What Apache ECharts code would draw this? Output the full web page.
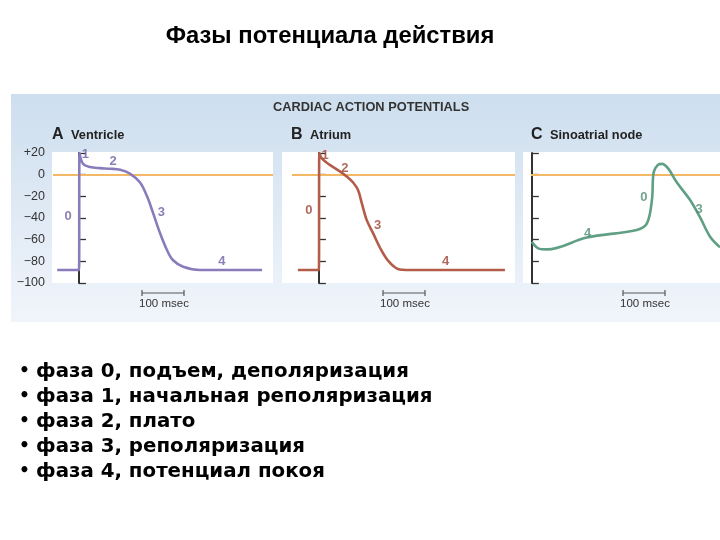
<!DOCTYPE html>
<html><head><meta charset="utf-8">
<script src="https://cdn.jsdelivr.net/npm/echarts@6/dist/echarts.min.js"></script>
<style>html,body{margin:0;padding:0;background:#fff}#c{width:720px;height:540px}</style>
</head><body><div id="c"></div>
<script>
// ---- data: membrane potential (mV) vs time (ms) ----
const ventricleT = [-52, 0, 1, 9.5, 26, 50, 74, 98, 121, 145, 162, 176, 193, 210, 224, 248, 288, 436];
const ventricleV = [-88, -88, 20, 10, 7, 6, 5.5, 4.5, 1, -7, -20, -35, -54, -70, -79, -85, -88, -88];
const atriumT = [-50, 0, 1, 7, 26, 50, 67, 81, 93, 102, 114, 129, 145, 164, 188, 215, 443];
const atriumV = [-88, -88, 20, 15, 9, 3, -2, -7, -14, -26, -42, -54, -67, -79, -87, -88, -88];
const sanodeT = [0, 15, 36, 131, 250, 274, 286, 290, 300, 310, 324, 345, 376, 400, 424, 448];
const sanodeV = [-62, -68, -69, -58, -51, -45, -23, 2, 9, 10, 6, -7, -23, -39, -57, -67];
// phase labels [time, mV, text]
const ventricleLabels = [[15, 18.6, '1'], [81, 12, '2'], [-26, -39, '0'], [196, -35, '3'], [340, -80, '4']];
const atriumLabels = [[15, 17.7, '1'], [62, 5.6, '2'], [-24, -33, '0'], [140, -47, '3'], [302, -80, '4']];
const sanodeLabels = [[133, -54, '4'], [267, -21, '0'], [398, -32, '3']];
const yTicks = [20, 0, -20, -40, -60, -80, -100];
const panelTitles = [['A', 'Ventricle'], ['B', 'Atrium'], ['C', 'Sinoatrial node']];
const bullets = ['фаза 0, подъем, деполяризация', 'фаза 1, начальная реполяризация', 'фаза 2, плато', 'фаза 3, реполяризация', 'фаза 4, потенциал покоя'];
const mainTitle = 'Фазы потенциала действия';
const figTitle = 'CARDIAC ACTION POTENTIALS';
const scaleText = '100 msec';

const zip = (t, v) => t.map((x, i) => [x, v[i]]);
const colors = ['#8a7cba', '#b35c4a', '#5f9f84'];
const labelColors = ['#6f5fa3', '#9c4434', '#4e8c70'];
const grids = [
  {left: 53, top: 153, width: 220, height: 130},
  {left: 292, top: 153, width: 223, height: 130},
  {left: 531, top: 153, width: 189, height: 130}
];
const xr = [[-62, 462], [-64, 467], [-2, 448]];
const curves = [zip(ventricleT, ventricleV), zip(atriumT, atriumV), zip(sanodeT, sanodeV)];
const labs = [ventricleLabels, atriumLabels, sanodeLabels];
const whiteRects = [[52, 273], [282, 515], [523, 720]];

const fmt = v => v > 0 ? '+' + v : (v < 0 ? '\u2212' + Math.abs(v) : '0');

const series = [];
curves.forEach((d, i) => {
  series.push({
    type: 'line', xAxisIndex: i, yAxisIndex: i, data: d, showSymbol: false, smooth: 0.35,
    lineStyle: {color: colors[i], width: 2.6}, z: 5, silent: true,
    markLine: {symbol: 'none', silent: true, label: {show: false},
      lineStyle: {color: '#f3b866', width: 2, type: 'solid'}, data: [{yAxis: 0}], z: 3}
  });
  series.push({
    type: 'scatter', xAxisIndex: i, yAxisIndex: i, data: labs[i], symbolSize: 0, z: 6, silent: true,
    label: {show: true, position: 'inside', formatter: p => p.data[2], color: labelColors[i],
      fontFamily: 'Liberation Sans', fontWeight: 'bold', fontSize: 13}
  });
});

const graphic = [];
graphic.push({type: 'rect', shape: {x: 11, y: 94, width: 709, height: 228}, z: -20,
  style: {fill: new echarts.graphic.LinearGradient(0, 0, 0, 1, [{offset: 0, color: '#cddeee'}, {offset: 1, color: '#f1f5fb'}])}});
whiteRects.forEach(r => graphic.push({type: 'rect', shape: {x: r[0], y: 152, width: r[1] - r[0], height: 131}, z: -10, style: {fill: '#ffffff'}}));
graphic.push({type: 'text', x: 330, y: 36, z: 10, style: {text: mainTitle, fill: '#000', font: 'bold 23.8px "Liberation Sans"', textAlign: 'center', textVerticalAlign: 'middle'}});
graphic.push({type: 'text', x: 273, y: 107, z: 10, style: {text: figTitle, fill: '#333', font: 'bold 12.8px "Liberation Sans"', textAlign: 'left', textVerticalAlign: 'middle'}});
const titleX = [52, 291, 531];
panelTitles.forEach((t, i) => {
  graphic.push({type: 'text', x: titleX[i], y: 135, z: 10, style: {text: t[0], fill: '#222', font: 'bold 16px "Liberation Sans"', textVerticalAlign: 'middle'}});
  graphic.push({type: 'text', x: titleX[i] + 19, y: 135, z: 10, style: {text: t[1], fill: '#222', font: 'bold 12.8px "Liberation Sans"', textVerticalAlign: 'middle'}});
});
const scaleX = [142, 383, 623];
scaleX.forEach(x => {
  graphic.push({type: 'line', z: 10, shape: {x1: x, y1: 293, x2: x + 42, y2: 293}, style: {stroke: '#555', lineWidth: 1.2}});
  graphic.push({type: 'line', z: 10, shape: {x1: x, y1: 290, x2: x, y2: 296}, style: {stroke: '#555', lineWidth: 1.2}});
  graphic.push({type: 'line', z: 10, shape: {x1: x + 42, y1: 290, x2: x + 42, y2: 296}, style: {stroke: '#555', lineWidth: 1.2}});
  graphic.push({type: 'text', x: x + 22, y: 304, z: 10, style: {text: scaleText, fill: '#333', font: '11.5px "Liberation Sans"', textAlign: 'center', textVerticalAlign: 'middle'}});
});
bullets.forEach((b, i) => {
  const y = 372 + i * 25;
  graphic.push({type: 'text', x: 19, y: y, z: 10, style: {text: '\u2022', fill: '#000', font: 'bold 17px "DejaVu Sans"', textVerticalAlign: 'middle'}});
  graphic.push({type: 'text', x: 36, y: y, z: 10, style: {text: b, fill: '#000', font: 'bold 19.8px "DejaVu Sans"', textVerticalAlign: 'middle'}});
});

const option = {
  animation: false,
  grid: grids,
  xAxis: grids.map((g, i) => ({type: 'value', gridIndex: i, min: xr[i][0], max: xr[i][1], show: false})),
  yAxis: grids.map((g, i) => ({
    type: 'value', gridIndex: i, min: -100, max: 20, interval: 20, splitLine: {show: false},
    axisLine: {show: true, lineStyle: {color: '#333', width: 2}},
    axisTick: {show: true, inside: true, length: 7, lineStyle: {color: '#333', width: 1.3}},
    axisLabel: {show: i === 0, formatter: fmt, color: '#333', fontSize: 12.5, fontFamily: 'Liberation Sans', margin: 8,
      customValues: yTicks}
  })),
  graphic: graphic,
  series: series
};
const chart = echarts.init(document.getElementById('c'));
chart.setOption(option);
</script></body></html>
